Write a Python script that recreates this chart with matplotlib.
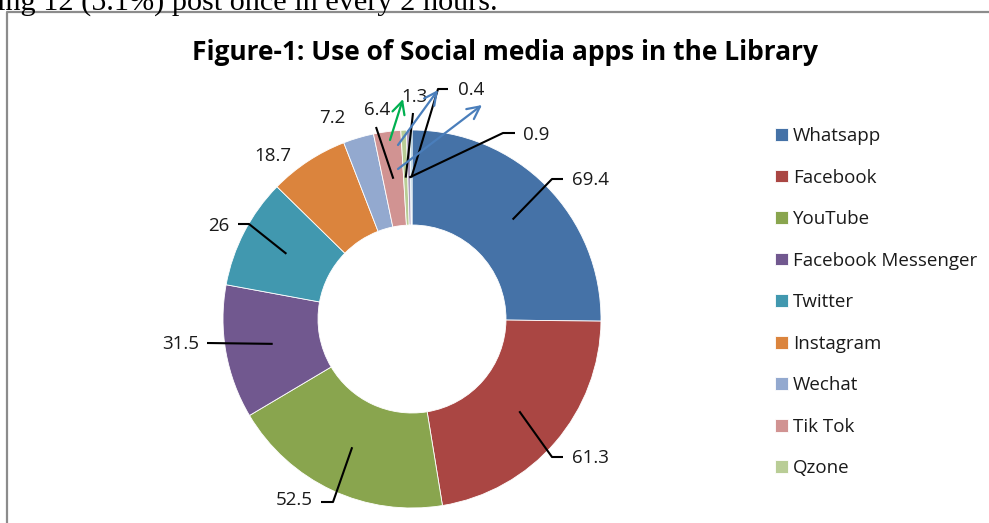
import numpy as np
import matplotlib
matplotlib.use("Agg")
import matplotlib.pyplot as plt

W, H = 989, 523

apps = ["Whatsapp", "Facebook", "YouTube", "Facebook Messenger", "Twitter",
        "Instagram", "Wechat", "Tik Tok", "Qzone", "Other 1", "Other 2"]
usage = [69.4, 61.3, 52.5, 31.5, 26, 18.7, 7.2, 6.4, 1.3, 0.9, 0.4]
labels = ["69.4", "61.3", "52.5", "31.5", "26", "18.7", "7.2", "6.4", "1.3", "0.9", "0.4"]
colors = ["#4572A7", "#AA4643", "#89A54E", "#71588F", "#4198AF", "#DB843D",
          "#93A9CF", "#D19392", "#B9CD96", "#A99BBD", "#91C3D5"]
n_legend = 9  # legend in the original is cut after Qzone

# label layout in pixel coords (x, y from top): text pos, ha, elbow, line end
layout = [
    ((572, 180), "left", (552, 179), (563, 179)),
    ((572, 458), "left", (552, 457), (563, 457)),
    ((313, 500), "right", (333, 502), (321, 502)),
    ((199, 344), "right", None, (207, 343)),
    ((229, 226), "right", (249, 224), (238, 224)),
    ((273, 156), "center", None, None),
    ((332, 118), "center", None, None),
    ((377, 110), "center", None, (376, 127)),
    ((414, 97), "center", None, (413, 113)),
    ((523, 135), "left", (503, 133), (515, 133)),
    ((458, 90), "left", (438, 89), (448, 89)),
]

cx, cy, R, ring = 412, 319, 189, 95

plt.rcParams['font.family'] = ['Open Sans', 'DejaVu Sans']

fig = plt.figure(figsize=(W / 100, H / 100), dpi=100)
ax = fig.add_axes([0, 0, 1, 1])


def P(x, y):
    return x, H - y


wedges, _ = ax.pie(usage, colors=colors, startangle=90, counterclock=False,
                   radius=R, center=P(cx, cy),
                   wedgeprops=dict(width=ring, edgecolor="white", linewidth=0.6))

rmid = R - ring / 2
for w, lab, (tpos, ha, elbow, end) in zip(wedges, labels, layout):
    th = np.deg2rad((w.theta1 + w.theta2) / 2)
    sx, sy = cx + rmid * np.cos(th), cy - rmid * np.sin(th)
    if end is not None:
        pts = [(sx, sy)] + ([elbow] if elbow else []) + [end]
        xs = [p[0] for p in pts]
        ys = [H - p[1] for p in pts]
        ax.plot(xs, ys, color="black", lw=1.5, solid_capstyle="butt")
    ax.text(*P(*tpos), lab, ha=ha, va="center", fontsize=13.5, color="#1a1a1a")

# hand-drawn arrows from the document
arrows = [((390, 140), (403, 99), "#00B050"),
          ((398, 145), (438, 90), "#4A7EBB"),
          ((398, 169), (482, 105), "#4A7EBB")]
for (x0, y0), (x1, y1), c in arrows:
    ax.annotate("", xy=P(x1, y1), xytext=P(x0, y0),
                arrowprops=dict(arrowstyle="->,head_length=0.9,head_width=0.45",
                                color=c, lw=1.6, shrinkA=0, shrinkB=0))

ax.text(*P(505, 53), "Figure-1: Use of Social media apps in the Library",
        ha="center", va="center", fontsize=19, fontweight="bold", color="black")

leg = ax.legend(wedges[:n_legend], apps[:n_legend], loc="upper left",
                bbox_to_anchor=(775 / W, 1 - 127 / H), frameon=False,
                fontsize=13.5, handlelength=0.68, handleheight=0.68,
                handletextpad=0.28, labelspacing=1.255, borderpad=0, borderaxespad=0)
for t in leg.get_texts():
    t.set_color("#1a1a1a")

# frame of the chart object and the document text above it
ax.plot([7, 7, W], [0, H - 12, H - 12], color="#8c8c8c", lw=1.6)
ax.text(-3, H - 10, "ing 12 (5.1%) post once in every 2 hours.", ha="left",
        va="baseline", fontsize=21.8, family="Liberation Serif", color="black")

ax.set_xlim(0, W)
ax.set_ylim(0, H)
ax.set_aspect("auto")
ax.axis("off")

fig.savefig("out.png", dpi=100)
